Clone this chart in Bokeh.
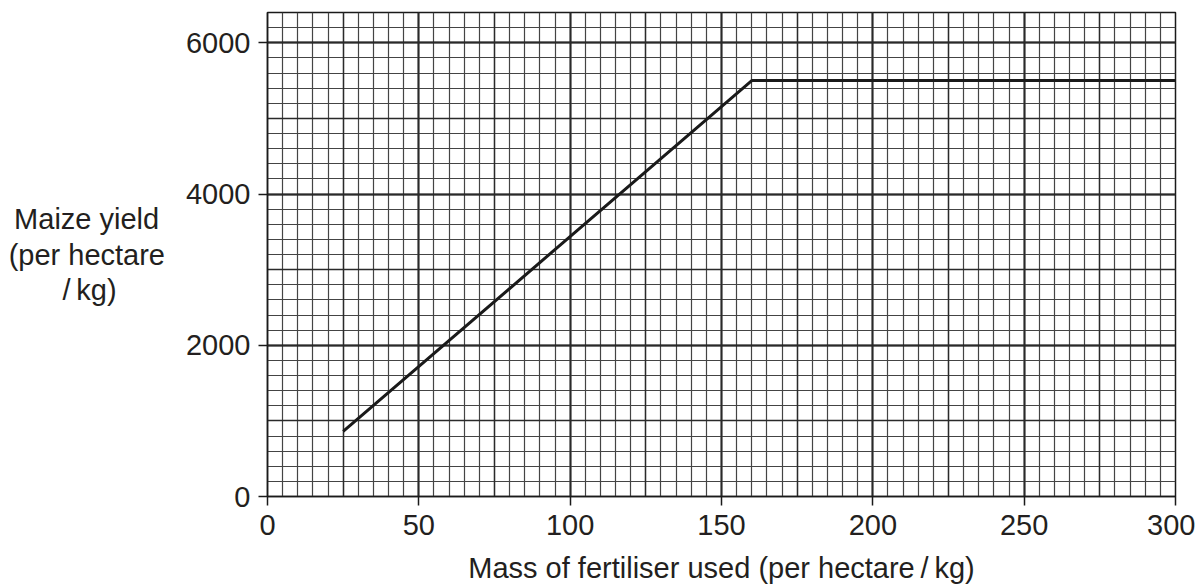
from bokeh.plotting import figure
from bokeh.models import Range1d, SingleIntervalTicker, Grid
from bokeh.embed import file_html
from bokeh.resources import INLINE

# Data
fertiliser = [25, 160, 300]
maize_yield = [860, 5500, 5500]
x_title = "Mass of fertiliser used (per hectare\u2009/\u2009kg)"
NB = "\u00a0"
y_title = "Maize yield\u2009\n(per hectare\n/\u2009kg)" + NB * 6

FONT = "Liberation Sans"
TXT = "#231f20"

p = figure(width=1195, height=581, output_backend="svg", toolbar_location=None,
           x_range=Range1d(0, 300), y_range=Range1d(0, 6400),
           min_border_left=267, min_border_right=20, min_border_top=12, min_border_bottom=85)
p.frame_width = 908
p.frame_height = 484

p.xaxis.ticker = SingleIntervalTicker(interval=50, num_minor_ticks=10)
p.yaxis.ticker = SingleIntervalTicker(interval=2000, num_minor_ticks=10)

for ax in (p.xaxis, p.yaxis):
    ax.major_label_text_font = FONT
    ax.major_label_text_font_size = "29px"
    ax.major_label_text_color = TXT
    ax.axis_line_color = "#1a1a1a"
    ax.axis_line_width = 1.5
    ax.major_tick_line_color = "#1a1a1a"
    ax.major_tick_line_width = 1.5
    ax.major_tick_in = 0
    ax.major_tick_out = 9
    ax.minor_tick_in = 0
    ax.minor_tick_out = 0
    ax.axis_label_text_font = FONT
    ax.axis_label_text_font_size = "29px"
    ax.axis_label_text_font_style = "normal"
    ax.axis_label_text_color = TXT
p.xaxis.major_label_standoff = 9
p.yaxis.major_label_standoff = 8

p.xaxis.axis_label = x_title
p.xaxis.axis_label_standoff = 14

p.yaxis.axis_label = y_title
p.yaxis.axis_label_orientation = "horizontal"
p.yaxis.axis_label_standoff = 18
p.yaxis.axis_label_text_line_height = 1.12

# grids
p.xgrid.grid_line_color = "#1e1e1e"
p.xgrid.grid_line_width = 1.8
p.xgrid.minor_grid_line_color = "#444444"
p.xgrid.minor_grid_line_width = 1.2
p.ygrid.grid_line_color = "#1e1e1e"
p.ygrid.grid_line_width = 1.8
p.ygrid.minor_grid_line_color = "#444444"
p.ygrid.minor_grid_line_width = 1.2

mid_x = Grid(dimension=0, ticker=SingleIntervalTicker(interval=25),
             grid_line_color="#2a2a2a", grid_line_width=1.4)
mid_y = Grid(dimension=1, ticker=SingleIntervalTicker(interval=1000),
             grid_line_color="#2a2a2a", grid_line_width=1.4)
p.add_layout(mid_x)
p.add_layout(mid_y)

p.outline_line_color = "#1a1a1a"
p.outline_line_width = 1.5
p.background_fill_color = "white"
p.border_fill_color = "white"

p.line(fertiliser, maize_yield, line_color="#1a1a1a", line_width=3)

open("out.html", "w").write(file_html(p, INLINE))
